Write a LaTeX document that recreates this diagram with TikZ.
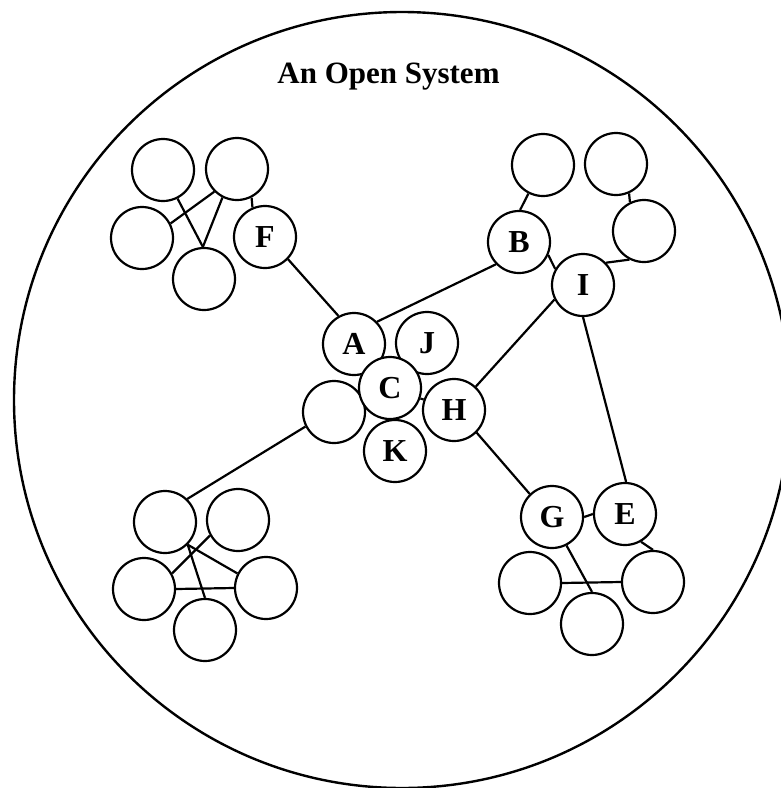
\documentclass[tikz,border=0pt]{standalone}
\usepackage{fontspec}
\setmainfont{Liberation Serif}
\begin{document}
\begin{tikzpicture}[x=1pt,y=-1pt,
  unit/.style={circle,draw,fill=white,line width=2.2pt,minimum size=62pt,
    inner sep=0pt,text height=21pt,text depth=0pt,
    font=\fontsize{32}{38}\selectfont\bfseries},
  link/.style={line width=2.2pt},
  boundary/.style={line width=2.4pt},
  heading/.style={font=\fontsize{31}{36}\selectfont\bfseries,anchor=base,inner sep=0pt}]
\useasboundingbox (0,0) rectangle (781,788);
\clip (0,0) rectangle (781,788);

% system boundary and title
\draw[boundary] (402,400) circle[radius=388];
\node[heading] (title) at (388.5,83) {An Open System};

% upper-left group
\node[unit] (f1) at (163,170) {};
\node[unit] (f2) at (237,169) {};
\node[unit] (f3) at (142,238) {};
\node[unit] (f4) at (204,279) {};
\node[unit] (F)  at (265,237) {F};

% upper-right group
\node[unit] (b1) at (543,165) {};
\node[unit] (b2) at (616,164) {};
\node[unit] (b3) at (644,231) {};
\node[unit] (B)  at (519,242) {B};
\node[unit] (I)  at (583,285) {I};

% central group
\node[unit] (A)  at (354,344) {A};
\node[unit] (J)  at (427,343) {J};
\node[unit] (c1) at (334,412) {};
\node[unit] (H)  at (454,410) {H};
\node[unit] (K)  at (395,451) {K};
\node[unit] (C)  at (390,388) {C};

% lower-left group
\node[unit] (l1) at (165,522) {};
\node[unit] (l2) at (238,520) {};
\node[unit] (l3) at (144,589) {};
\node[unit] (l4) at (266,588) {};
\node[unit] (l5) at (205,630) {};

% lower-right group
\node[unit] (G)  at (552,517) {G};
\node[unit] (E)  at (625,514) {E};
\node[unit] (g1) at (530,583) {};
\node[unit] (g2) at (653,582) {};
\node[unit] (g3) at (592,624) {};

% links in the upper-left group
\draw[link] (f1.-63) -- (f4.92);
\draw[link] (f2.-135) -- (f3.27);
\draw[link] (f2.-117) -- (f4.92);
\draw[link] (f2.-63) -- (F.113);
\draw[link] (F.-44) -- (A.119);

% links in the upper-right group
\draw[link] (B.88) -- (b1.-117);
\draw[link] (b2.-66) -- (b3.116);
\draw[link] (b3.-117) -- (I.44);
\draw[link] (B.-24) -- (I.150);
\draw[link] (B.-136) -- (A.44);
\draw[link] (I.-153) -- (H.47);
\draw[link] (I.-90) -- (E.88);

% central links
\draw[link] (C.-19) -- (H.161);
\draw[link] (H.-45) -- (G.134);
\draw[link] (c1.-153) -- (l1.46);

% links in the lower-left group
\draw[link] (l1.-45) -- (l4.153);
\draw[link] (l1.-45) -- (l5.90);
\draw[link] (l2.-151) -- (l3.29);
\draw[link] (l3.0) -- (l4.180);

% links in the lower-right group
\draw[link] (G.0) -- (E.180);
\draw[link] (E.-60) -- (g2.90);
\draw[link] (G.-63) -- (g3.90);
\draw[link] (g1.0) -- (g2.180);
\end{tikzpicture}
\end{document}
